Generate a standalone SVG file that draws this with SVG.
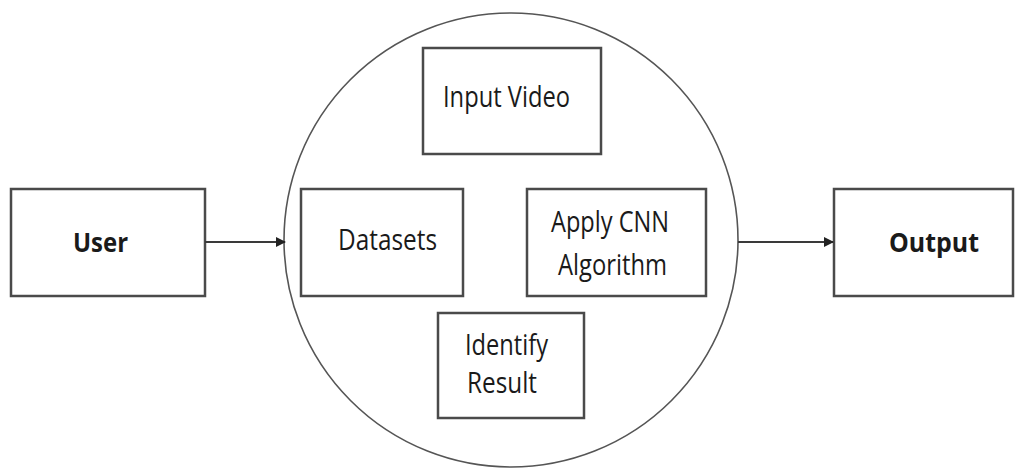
<svg xmlns="http://www.w3.org/2000/svg" width="1019" height="468" viewBox="0 0 1019 468">
<defs>
<style>
.box{fill:#fff;stroke:#4a4a4a;stroke-width:2.5}
.t{font-family:"Open Sans","Liberation Sans",sans-serif;font-size:30px;fill:#1a1a1a;text-anchor:middle}
.b{font-family:"Open Sans","Liberation Sans",sans-serif;font-size:26px;font-weight:bold;fill:#1a1a1a;text-anchor:middle}
.c{fill:none;stroke:#3a3a3a;stroke-width:2}
</style>
<marker id="ah" markerWidth="10" markerHeight="10" refX="9" refY="5" orient="auto" markerUnits="userSpaceOnUse">
<path d="M0,0 L10,5 L0,10 Z" fill="#222"/>
</marker>
</defs>
<rect width="1019" height="468" fill="#fff"/>
<g id="circle"><circle cx="511" cy="240" r="227" fill="none" stroke="#555" stroke-width="1.6"/></g>
<g id="user"><rect class="box" x="11" y="189" width="194" height="107"/><text class="b" x="100.5" y="252" textLength="55" lengthAdjust="spacingAndGlyphs">User</text></g>
<g id="output"><rect class="box" x="834" y="189" width="179" height="107"/><text class="b" x="934" y="252" textLength="90" lengthAdjust="spacingAndGlyphs">Output</text></g>
<g id="input-video"><rect class="box" x="423" y="48" width="178" height="106"/><text class="t" x="506.5" y="107" textLength="127" lengthAdjust="spacingAndGlyphs">Input Video</text></g>
<g id="datasets"><rect class="box" x="301" y="189" width="162" height="107"/><text class="t" x="387.5" y="250" textLength="99" lengthAdjust="spacingAndGlyphs">Datasets</text></g>
<g id="apply-cnn"><rect class="box" x="527" y="189" width="179" height="107"/><text class="t" x="610" y="232" textLength="118" lengthAdjust="spacingAndGlyphs">Apply CNN</text><text class="t" x="612.5" y="275" textLength="109" lengthAdjust="spacingAndGlyphs">Algorithm</text></g>
<g id="identify-result"><rect class="box" x="438" y="313" width="146" height="105"/><text class="t" x="506.5" y="355" textLength="83" lengthAdjust="spacingAndGlyphs">Identify</text><text class="t" x="502" y="393" textLength="70" lengthAdjust="spacingAndGlyphs">Result</text></g>
<g id="connectors">
<line class="c" x1="205" y1="242" x2="285" y2="242" marker-end="url(#ah)"/>
<line class="c" x1="738" y1="242" x2="833" y2="242" marker-end="url(#ah)"/>
</g>
</svg>
